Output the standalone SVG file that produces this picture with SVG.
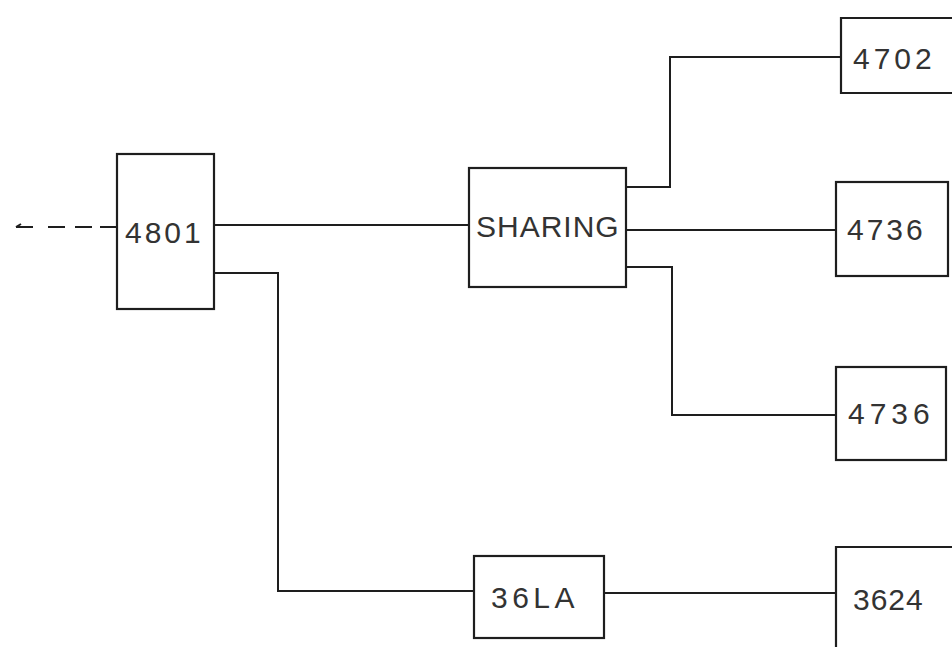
<svg xmlns="http://www.w3.org/2000/svg" width="952" height="647" viewBox="0 0 952 647">
  <style>
    .box { fill: none; stroke: #1e1e1e; stroke-width: 2.2; }
    .wire { fill: none; stroke: #1e1e1e; stroke-width: 2; }
    .lbl { font-family: "Liberation Sans", Arial, sans-serif; font-size: 30px; fill: #333333; font-weight: 300; }
  </style>
  <rect width="952" height="647" fill="#ffffff"/>

  <g id="connectors">
    <!-- incoming dashed line with small hook at its tip -->
    <path class="wire" d="M16 227 H33 M48 227 H65 M75 227 H92 M100 227 H117"/>
    <path class="wire" d="M16 227 L21 224"/>
    <!-- 4801 to SHARING -->
    <path class="wire" d="M214 225 H469"/>
    <!-- 4801 to 36LA -->
    <path class="wire" d="M214 273 H278 V591 H474"/>
    <!-- SHARING outputs -->
    <path class="wire" d="M626 187 H670 V57 H841"/>
    <path class="wire" d="M626 230 H836"/>
    <path class="wire" d="M626 267 H672 V415 H836"/>
    <!-- 36LA to 3624 -->
    <path class="wire" d="M604 593 H836"/>
  </g>

  <g id="n4801">
    <rect class="box" x="117" y="154" width="97" height="155"/>
    <text class="lbl" x="125" y="243" font-size="28" letter-spacing="3">4801</text>
  </g>

  <g id="sharing">
    <rect class="box" x="469" y="168" width="157" height="119"/>
    <text class="lbl" x="476" y="237" letter-spacing="1">SHARING</text>
  </g>

  <g id="n4702">
    <path class="box" d="M960 18 H841 V93 H960"/>
    <text class="lbl" x="853" y="69" letter-spacing="4">4702</text>
  </g>

  <g id="n4736a">
    <rect class="box" x="836" y="182" width="112" height="94"/>
    <text class="lbl" x="847" y="240" letter-spacing="3">4736</text>
  </g>

  <g id="n4736b">
    <rect class="box" x="836" y="367" width="110" height="93"/>
    <text class="lbl" x="848" y="424" letter-spacing="5">4736</text>
  </g>

  <g id="n36la">
    <rect class="box" x="474" y="556" width="130" height="82"/>
    <text class="lbl" x="491" y="608" letter-spacing="4.5">36LA</text>
  </g>

  <g id="n3624">
    <path class="box" d="M960 547 H836 V660"/>
    <text class="lbl" x="853" y="610" letter-spacing="1">3624</text>
  </g>
</svg>
